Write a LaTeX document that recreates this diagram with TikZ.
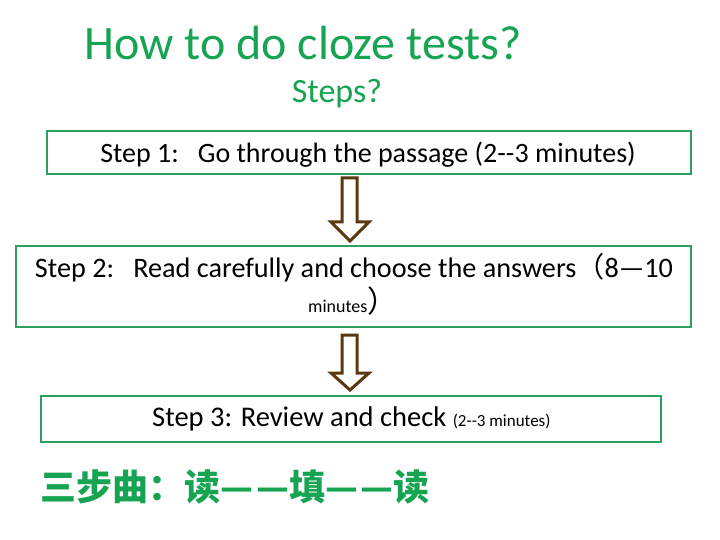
\documentclass[tikz,border=0pt]{standalone}
\usepackage{fontspec}
\setmainfont{Carlito}
\newfontfamily\cjk{Noto Sans CJK SC}
\definecolor{titlegreen}{RGB}{22,163,82}
\definecolor{boxgreen}{RGB}{44,160,92}
\definecolor{arrowbrown}{RGB}{92,56,16}
\tikzset{
  stepbox/.style={draw=boxgreen, line width=2.2pt, fill=white},
  bigarrow/.style={draw=arrowbrown, line width=3pt, fill=white, line join=miter},
  lbl/.style={anchor=base, inner sep=0pt, text=black},
}
\begin{document}
\begin{tikzpicture}[x=1pt,y=-1pt]
\useasboundingbox (0,0) rectangle (720,540);
% title
\node[lbl, text=titlegreen, font=\fontsize{48}{52}\selectfont] (title) at (303,60) {How to do cloze tests?};
\node[lbl, text=titlegreen, font=\fontsize{34}{38}\selectfont] (steps) at (337,103) {Steps?};
% boxes
\draw[stepbox] (47,131) rectangle (691,174);
\draw[stepbox] (16,246) rectangle (691,327);
\draw[stepbox] (41,396) rectangle (661,442);
% arrows
\draw[bigarrow] (342,178) -- (357,178) -- (357,222) -- (369,222) -- (350,241) -- (331,222) -- (342,222) -- cycle;
\draw[bigarrow] (342,335) -- (357,335) -- (357,373) -- (369,373) -- (350,390) -- (331,373) -- (342,373) -- cycle;
% step texts
\node[lbl, font=\fontsize{28}{32}\selectfont] (s1) at (368,163) {Step 1:\ \ \ Go through the passage (2-{}-3 minutes)};
\node[lbl, font=\fontsize{28.2}{32}\selectfont] (s2) at (354,277) {Step 2:\ \ \ Read carefully and choose the answers{\cjk （}8—10};
\node[lbl, anchor=base west, font=\fontsize{18}{20}\selectfont] (s2b) at (308,312) {minutes{\cjk\fontsize{30}{32}\selectfont ）}};
\node[lbl, anchor=base west, font=\fontsize{28.5}{32}\selectfont] (s3) at (152,426) {Step 3: Review and check {\fontsize{17}{20}\selectfont (2-{}-3 minutes)}};
% chinese line
\node[lbl, anchor=base west, text=titlegreen, font=\cjk\bfseries\fontsize{36}{40}\selectfont] (cn) at (40,500) {三步曲：读—\kern3pt—填—\kern3pt—读};
\end{tikzpicture}
\end{document}
